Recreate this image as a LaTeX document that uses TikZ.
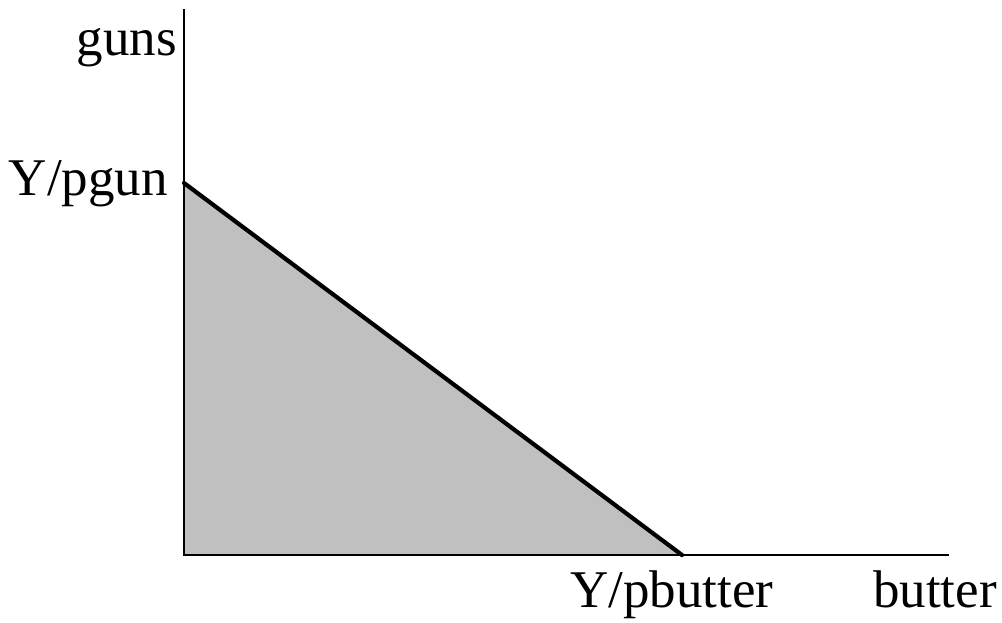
\documentclass[tikz,border=0pt]{standalone}
\usepackage{fontspec}
\setmainfont{Liberation Serif}
\begin{document}
\begin{tikzpicture}[x=1pt,y=-1pt,
  lbl/.style={inner sep=0pt,font=\fontsize{53}{60}\selectfont},
  axis/.style={line width=2.5pt,line cap=rect},
  budget/.style={line width=4.2pt,line cap=round}]
\useasboundingbox (0,0) rectangle (1002,622);
\coordinate (O) at (184,555);
\coordinate (T) at (184,10);
\coordinate (R) at (948,555);
\coordinate (A) at (184,183);
\coordinate (B) at (682,555);
\fill[fill={rgb,255:red,192;green,192;blue,192}] (A) -- (O) -- (B) -- cycle;
\draw[axis] (T) -- (O) -- (R);
\draw[budget] (A) -- (B);
\node[lbl,anchor=base east] (guns) at (177,55) {guns};
\node[lbl,anchor=base east] (ypg) at (168,195) {Y/pgun};
\node[lbl,anchor=base west] (ypb) at (570,607) {Y/pbutter};
\node[lbl,anchor=base east] (butter) at (997,607) {butter};
\end{tikzpicture}
\end{document}
